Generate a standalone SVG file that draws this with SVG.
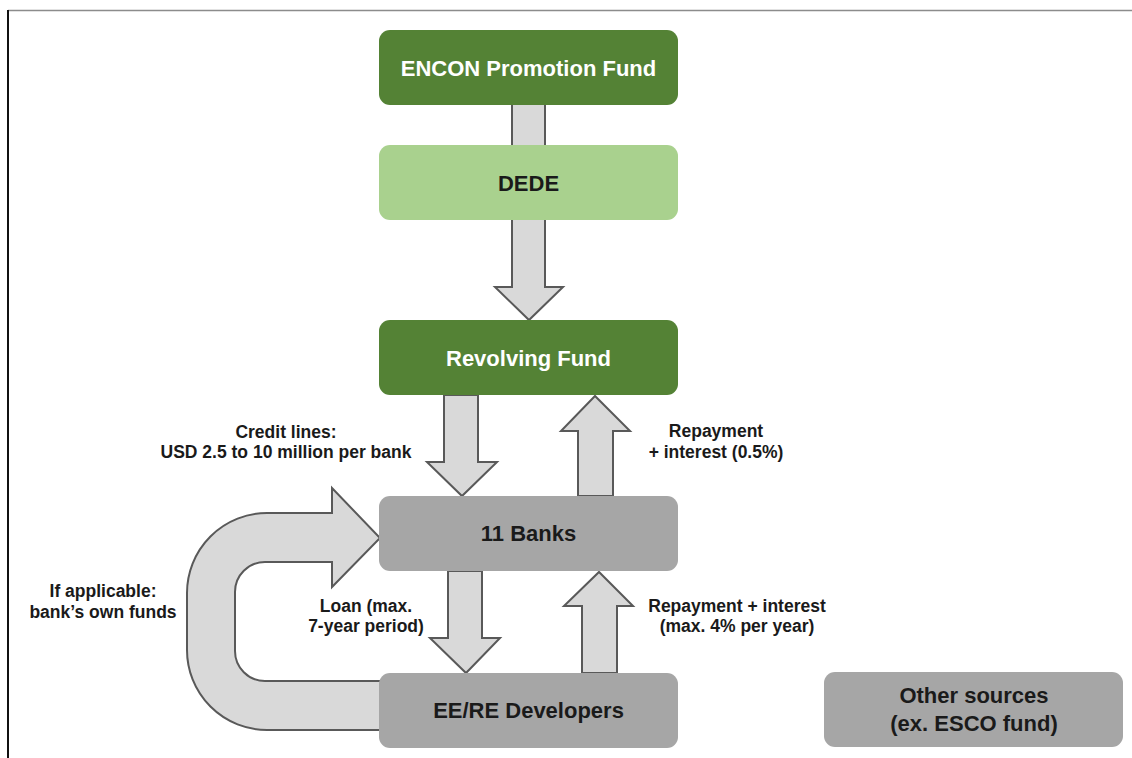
<svg xmlns="http://www.w3.org/2000/svg" width="1132" height="758" viewBox="0 0 1132 758">
<style>
.arrow{fill:#D9D9D9;stroke:#595959;stroke-width:2;stroke-linejoin:miter}
.dg{fill:#548235}
.lg{fill:#A9D18E}
.gr{fill:#A6A6A6}
.t{font-family:"Liberation Sans",Arial,sans-serif;font-weight:bold;text-anchor:middle}
.nw{font-size:22px;fill:#FFFFFF}
.nb{font-size:22px;fill:#1A1A1A}
.lbl{font-size:17.5px;fill:#1A1A1A}
</style>
<rect x="0" y="0" width="1132" height="758" fill="#FFFFFF"/>
<line x1="8" y1="10.5" x2="1132" y2="10.5" stroke="#8C8C8C" stroke-width="1.5"/>
<line x1="8" y1="10" x2="8" y2="758" stroke="#111111" stroke-width="2"/>
<g id="connectors">
<path class="arrow" d="M512 104 L545 104 L545 287 L563 287 L529 320 L495 287 L512 287 Z"/>
<path class="arrow" d="M444 395 L478 395 L478 462 L497 462 L462 496 L427 462 L444 462 Z"/>
<path class="arrow" d="M578 496 L613 496 L613 431 L630 431 L595 396 L561 431 L578 431 Z"/>
<path class="arrow" d="M448 571 L482 571 L482 638 L500 638 L466 673 L430 638 L448 638 Z"/>
<path class="arrow" d="M582 673 L617 673 L617 606 L633 606 L599 572 L564 606 L582 606 Z"/>
<path class="arrow" d="M382 681 L265 681 A30 30 0 0 1 235 651 L235 592 A30 30 0 0 1 265 562 L332 562 L332 587 L380 538 L332 488 L332 513 L267 513 A80 80 0 0 0 187 593 L187 650 A80 80 0 0 0 267 730 L382 730"/>
</g>
<g id="encon">
<rect class="dg" x="379" y="30" width="299" height="75" rx="11"/>
<text class="t nw" x="528.5" y="75.5">ENCON Promotion Fund</text>
</g>
<g id="dede">
<rect class="lg" x="379" y="145" width="299" height="75" rx="11"/>
<text class="t nb" x="528.5" y="191">DEDE</text>
</g>
<g id="revolving">
<rect class="dg" x="379" y="320" width="299" height="75" rx="11"/>
<text class="t nw" x="528.5" y="366">Revolving Fund</text>
</g>
<g id="banks">
<rect class="gr" x="379" y="496" width="299" height="75" rx="11"/>
<text class="t nb" x="528.5" y="541">11 Banks</text>
</g>
<g id="developers">
<rect class="gr" x="379" y="673" width="299" height="75" rx="11"/>
<text class="t nb" x="528.5" y="718">EE/RE Developers</text>
</g>
<g id="other">
<rect class="gr" x="824" y="672" width="299" height="75" rx="11"/>
<text class="t nb" x="974" y="703">Other sources</text>
<text class="t nb" x="974" y="731">(ex. ESCO fund)</text>
</g>
<g id="labels">
<text class="t lbl" x="286" y="438">Credit lines:</text>
<text class="t lbl" x="286" y="458">USD 2.5 to 10 million per bank</text>
<text class="t lbl" x="716" y="437">Repayment</text>
<text class="t lbl" x="716" y="458">+ interest (0.5%)</text>
<text class="t lbl" x="366" y="612">Loan (max.</text>
<text class="t lbl" x="366" y="632">7-year period)</text>
<text class="t lbl" x="737" y="612">Repayment + interest</text>
<text class="t lbl" x="737" y="632">(max. 4% per year)</text>
<text class="t lbl" x="103" y="597">If applicable:</text>
<text class="t lbl" x="103" y="618">bank’s own funds</text>
</g>
</svg>
